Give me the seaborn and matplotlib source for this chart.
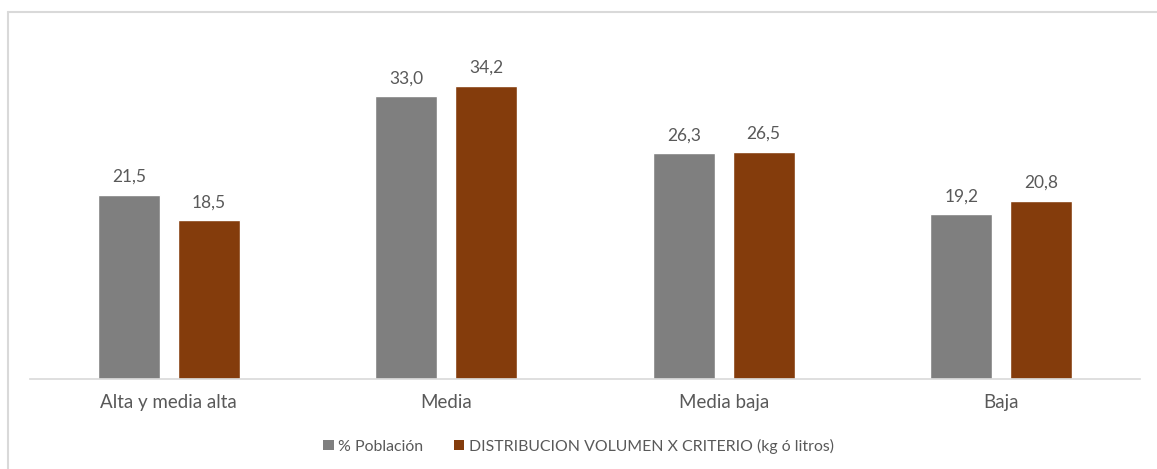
import pandas as pd
import matplotlib.pyplot as plt
import seaborn as sns
from matplotlib.patches import Patch
from matplotlib.lines import Line2D

# data
categorias = ["Alta y media alta", "Media", "Media baja", "Baja"]
series = ["% Población", "DISTRIBUCION VOLUMEN X CRITERIO (kg ó litros)"]
poblacion = [21.5, 33.0, 26.3, 19.2]
distribucion = [18.5, 34.2, 26.5, 20.8]
colores = ["#7F7F7F", "#843C0C"]

df = pd.DataFrame({
    "categoria": categorias * 2,
    "serie": [series[0]] * 4 + [series[1]] * 4,
    "valor": poblacion + distribucion,
})

sns.set_style("white")
plt.rcParams["font.family"] = ["Lato", "DejaVu Sans"]
texto = "#595959"

fig = plt.figure(figsize=(11.57, 4.69), dpi=100)
ax = fig.add_axes([0.0259, 0.1919, 0.9594, 0.7313])

sns.barplot(data=df, x="categoria", y="valor", hue="serie",
            palette=colores, saturation=1, width=0.576, gap=0.226,
            legend=False, ax=ax)

for cont in ax.containers:
    etiquetas = [f"{b.get_height():.1f}".replace(".", ",") for b in cont]
    ax.bar_label(cont, labels=etiquetas, padding=7, fontsize=12.5, color=texto)

ax.set_ylim(0, 40)
ax.set_xlim(-0.5, 3.5)
ax.set_xlabel("")
ax.set_ylabel("")
ax.set_yticks([])
ax.tick_params(axis="x", length=0, pad=11, labelsize=13.5, labelcolor=texto)
for lado in ["top", "right", "left"]:
    ax.spines[lado].set_visible(False)
ax.spines["bottom"].set_color("#D9D9D9")
ax.spines["bottom"].set_linewidth(1.2)

# leyenda abajo
handles = [Patch(facecolor=c, edgecolor="none") for c in colores]
fig.legend(handles, series, loc="center", bbox_to_anchor=(0.5, 0.049),
           ncol=2, frameon=False, fontsize=11.4, labelcolor=texto,
           handlelength=0.65, handleheight=0.65, handletextpad=0.3,
           columnspacing=1.9)

# marco gris del grafico (solo se ve izquierda y arriba)
x0 = 7.5 / 1157
y0 = 1 - 12.5 / 469
fig.add_artist(Line2D([x0, x0], [0, y0], transform=fig.transFigure,
                      color="#D9D9D9", lw=1.5))
fig.add_artist(Line2D([x0, 1], [y0, y0], transform=fig.transFigure,
                      color="#D9D9D9", lw=1.5))

fig.savefig("out.png", dpi=100)
